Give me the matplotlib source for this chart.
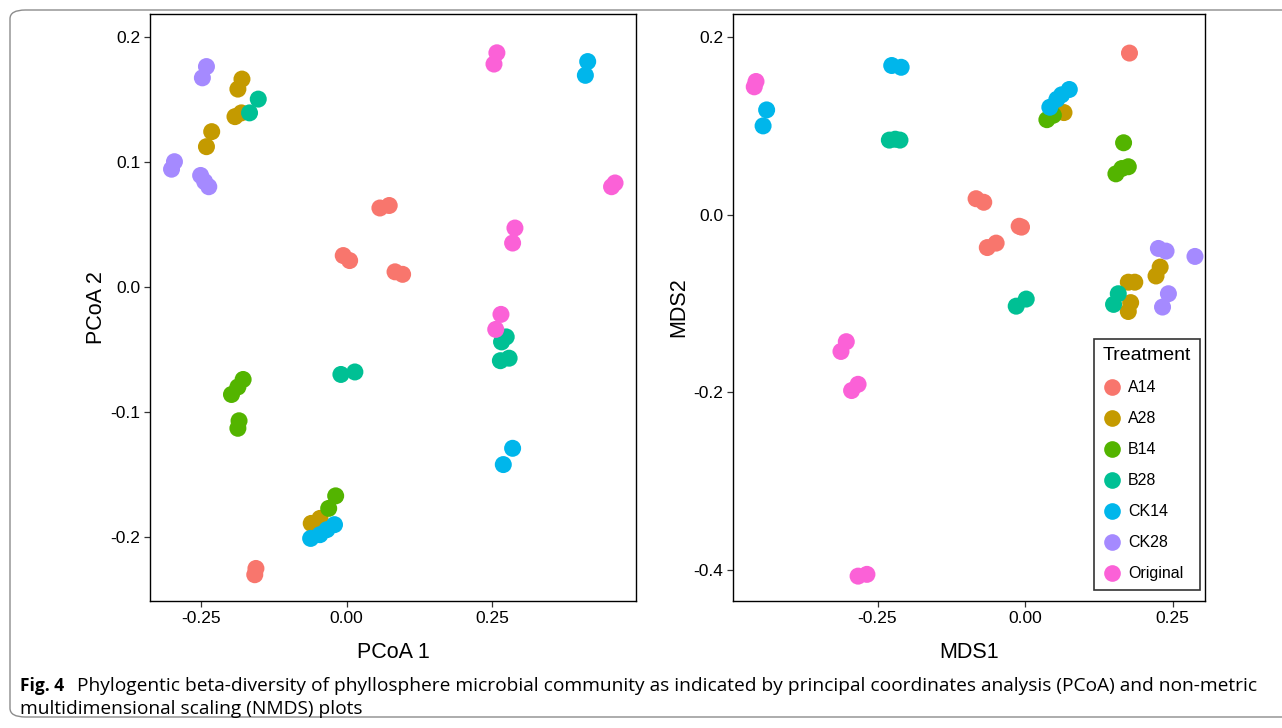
import matplotlib
matplotlib.use("Agg")
import matplotlib.pyplot as plt
from matplotlib.patches import FancyBboxPatch
from matplotlib.lines import Line2D

# ---------------- data ----------------
treatments = ["A14", "A28", "B14", "B28", "CK14", "CK28", "Original"]
colors = ["#F8766D", "#C49A00", "#53B400", "#00C094", "#00B6EB", "#A58AFF", "#FB61D7"]

# PCoA panel
pcoa1_A14 = [0.057, 0.073, -0.006, 0.005, 0.083, 0.096, -0.156, -0.158]
pcoa2_A14 = [0.063, 0.065, 0.025, 0.021, 0.012, 0.010, -0.225, -0.230]
pcoa1_A28 = [-0.180, -0.187, -0.192, -0.181, -0.232, -0.241, -0.061, -0.046]
pcoa2_A28 = [0.166, 0.158, 0.136, 0.139, 0.124, 0.112, -0.189, -0.185]
pcoa1_B14 = [-0.178, -0.187, -0.198, -0.185, -0.187, -0.019, -0.031]
pcoa2_B14 = [-0.074, -0.080, -0.086, -0.107, -0.113, -0.167, -0.177]
pcoa1_B28 = [-0.152, -0.167, -0.010, 0.014, 0.274, 0.266, 0.264, 0.279]
pcoa2_B28 = [0.150, 0.139, -0.070, -0.068, -0.040, -0.044, -0.059, -0.057]
pcoa1_CK14 = [0.414, 0.410, 0.285, 0.269, -0.062, -0.046, -0.034, -0.021]
pcoa2_CK14 = [0.180, 0.169, -0.129, -0.142, -0.201, -0.198, -0.194, -0.190]
pcoa1_CK28 = [-0.241, -0.248, -0.296, -0.301, -0.251, -0.244, -0.237]
pcoa2_CK28 = [0.176, 0.167, 0.100, 0.094, 0.089, 0.084, 0.080]
pcoa1_Original = [0.258, 0.253, 0.461, 0.455, 0.289, 0.285, 0.265, 0.256]
pcoa2_Original = [0.187, 0.178, 0.083, 0.080, 0.047, 0.035, -0.022, -0.034]

# NMDS panel
mds1_A14 = [0.177, -0.083, -0.070, -0.010, -0.006, -0.049, -0.064]
mds2_A14 = [0.182, 0.018, 0.014, -0.013, -0.014, -0.032, -0.037]
mds1_A28 = [0.066, 0.229, 0.222, 0.175, 0.186, 0.179, 0.175]
mds2_A28 = [0.115, -0.059, -0.069, -0.076, -0.076, -0.099, -0.109]
mds1_B14 = [0.037, 0.048, 0.167, 0.175, 0.164, 0.154]
mds2_B14 = [0.107, 0.112, 0.081, 0.054, 0.052, 0.046]
mds1_B28 = [-0.230, -0.220, -0.212, 0.158, 0.150, 0.002, -0.015]
mds2_B28 = [0.084, 0.085, 0.084, -0.089, -0.101, -0.095, -0.103]
mds1_CK14 = [-0.438, -0.444, -0.226, -0.210, 0.075, 0.062, 0.054, 0.042]
mds2_CK14 = [0.118, 0.100, 0.168, 0.166, 0.141, 0.135, 0.130, 0.121]
mds1_CK28 = [0.226, 0.239, 0.288, 0.243, 0.233]
mds2_CK28 = [-0.038, -0.041, -0.047, -0.089, -0.104]
mds1_Original = [-0.456, -0.459, -0.303, -0.312, -0.283, -0.294, -0.268, -0.283]
mds2_Original = [0.150, 0.144, -0.143, -0.154, -0.191, -0.198, -0.405, -0.407]

pcoa_ticks_x = [-0.25, 0.0, 0.25]
pcoa_ticklabels_x = ["-0.25", "0.00", "0.25"]
pcoa_ticks_y = [0.2, 0.1, 0.0, -0.1, -0.2]
pcoa_ticklabels_y = ["0.2", "0.1", "0.0", "-0.1", "-0.2"]
mds_ticks_x = [-0.25, 0.0, 0.25]
mds_ticklabels_x = ["-0.25", "0.00", "0.25"]
mds_ticks_y = [0.2, 0.0, -0.2, -0.4]
mds_ticklabels_y = ["0.2", "0.0", "-0.2", "-0.4"]

caption_bold = "Fig. 4"
caption_line1 = ("Phylogentic beta-diversity of phyllosphere microbial community as indicated by "
                 "principal coordinates analysis (PCoA) and non-metric")
caption_line2 = "multidimensional scaling (NMDS) plots"

pcoa_x = [pcoa1_A14, pcoa1_A28, pcoa1_B14, pcoa1_B28, pcoa1_CK14, pcoa1_CK28, pcoa1_Original]
pcoa_y = [pcoa2_A14, pcoa2_A28, pcoa2_B14, pcoa2_B28, pcoa2_CK14, pcoa2_CK28, pcoa2_Original]
mds_x = [mds1_A14, mds1_A28, mds1_B14, mds1_B28, mds1_CK14, mds1_CK28, mds1_Original]
mds_y = [mds2_A14, mds2_A28, mds2_B14, mds2_B28, mds2_CK14, mds2_CK28, mds2_Original]

# ---------------- figure ----------------
plt.rcParams['font.family'] = ['Liberation Sans', 'DejaVu Sans']
W, H = 1282, 728
fig = plt.figure(figsize=(W / 100, H / 100), dpi=100)

# outer rounded frame
frame = FancyBboxPatch((10 / W, 1 - 717 / H), 1300 / W, 707 / H,
                       boxstyle="round,pad=0,rounding_size=0.012",
                       transform=fig.transFigure, fill=False,
                       edgecolor="#8c8c8c", linewidth=1.0, clip_on=False)
fig.patches.append(frame)

ax1 = fig.add_axes([150 / W, 1 - 601 / H, 486 / W, 587 / H])
ax2 = fig.add_axes([733 / W, 1 - 601 / H, 472 / W, 587 / H])

MS = 150
for xs, ys, c in zip(pcoa_x, pcoa_y, colors):
    ax1.scatter(xs, ys, s=MS, color=c, edgecolors='none', zorder=3)
for xs, ys, c in zip(mds_x, mds_y, colors):
    ax2.scatter(xs, ys, s=MS, color=c, edgecolors='none', zorder=3)

ax1.set_xlim(-0.338, 0.497)
ax1.set_ylim(-0.251, 0.218)
ax2.set_xlim(-0.495, 0.305)
ax2.set_ylim(-0.435, 0.226)

ax1.set_xticks(pcoa_ticks_x, pcoa_ticklabels_x)
ax1.set_yticks(pcoa_ticks_y, pcoa_ticklabels_y)
ax2.set_xticks(mds_ticks_x, mds_ticklabels_x)
ax2.set_yticks(mds_ticks_y, mds_ticklabels_y)

for ax in (ax1, ax2):
    for sp in ax.spines.values():
        sp.set_color("black")
        sp.set_linewidth(1.0)
    ax.tick_params(axis='both', direction='out', length=4, width=0.9,
                   color='#333333', labelsize=12.5, labelcolor='black', pad=3)

ax1.set_xlabel("PCoA 1", fontsize=15.5, labelpad=12)
ax1.set_ylabel("PCoA 2", fontsize=15.5, labelpad=2)
ax2.set_xlabel("MDS1", fontsize=15.5, labelpad=12)
ax2.set_ylabel("MDS2", fontsize=15.5, labelpad=3)

handles = [Line2D([0], [0], marker='o', linestyle='none', markersize=12,
                  markerfacecolor=c, markeredgecolor='none') for c in colors]
leg = ax2.legend(handles, treatments, title="Treatment", loc='lower right',
                 bbox_to_anchor=(0.989, 0.0187), borderaxespad=0.0,
                 frameon=True, fancybox=False,
                 edgecolor='black', fontsize=11.5, title_fontsize=14,
                 labelspacing=1.0, handletextpad=0.4, borderpad=0.55,
                 handlelength=1.2, alignment='left')
leg.get_frame().set_linewidth(1.2)

# caption
cap_fs = 12.5
capfam = ['Open Sans', 'DejaVu Sans']
fig.text(20 / W, 1 - 686 / H, caption_bold, fontsize=cap_fs, fontweight='bold',
         va='center', ha='left', family=capfam)
t1 = fig.text(77 / W, 1 - 686 / H, caption_line1, fontsize=cap_fs, va='center', ha='left',
              family=capfam, stretch='semi-condensed')
t2 = fig.text(20 / W, 1 - 709 / H, caption_line2, fontsize=cap_fs, va='center', ha='left',
              family=capfam, stretch='semi-condensed')
# fit the first caption line to its width in the reference
r = fig.canvas.get_renderer()
w1 = t1.get_window_extent(r).width
scale = (1262 - 77) / w1
t1.set_fontsize(cap_fs * scale)
t2.set_fontsize(cap_fs * scale)

fig.savefig("out.png", dpi=100)
